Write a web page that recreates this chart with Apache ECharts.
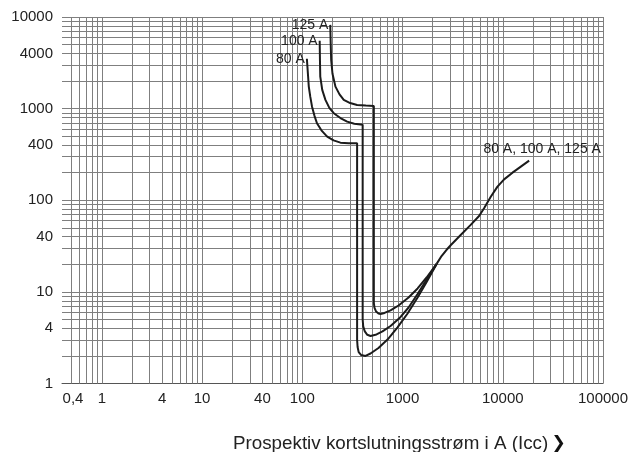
<!DOCTYPE html>
<html>
<head>
<meta charset="utf-8">
<script src="https://cdn.jsdelivr.net/npm/echarts@6/dist/echarts.min.js"></script>
<style>
  html, body { margin: 0; padding: 0; background: #fff; }
  #chart { width: 633px; height: 452px; }
</style>
</head>
<body>
<div id="chart"></div>
<script>
// Let-through curves vs prospective short-circuit current, log-log.
// Each point: [current in A, value]
const curve80 = [
  [111, 3500], [114, 2300], [116, 1740], [120, 1350], [125, 1050], [132, 840],
  [140, 693], [155, 580], [177, 495], [205, 450], [240, 425], [290, 418], [352, 418],
  [352, 3.0], [356, 2.5], [365, 2.2], [385, 2.05], [427, 2.0], [479, 2.125],
  [575, 2.44], [708, 3.02], [891, 4.09], [1122, 5.81], [1413, 8.7], [1738, 12.8],
  [2188, 20.2]
];
const curve100 = [
  [149, 5500], [150, 3300], [151, 2236], [158, 1600], [170, 1245], [186, 1020],
  [206, 891], [240, 790], [280, 721], [330, 685], [400, 665],
  [400, 5.0], [405, 4.2], [420, 3.7], [445, 3.4], [479, 3.3], [550, 3.43],
  [631, 3.7], [759, 4.24], [933, 5.18], [1148, 6.75], [1413, 9.49], [1738, 13.65],
  [2188, 20.2]
];
const curve125 = [
  [190, 8200], [192, 5000], [194, 3400], [200, 2400], [214, 1738], [235, 1430],
  [259, 1245], [300, 1150], [352, 1097], [430, 1080], [517, 1071],
  [517, 7.6], [525, 6.7], [545, 6.1], [575, 5.8], [603, 5.74], [661, 5.89],
  [759, 6.27], [912, 7.1], [1148, 8.69], [1413, 10.89], [1738, 14.36], [2188, 20.2]
];
const curveCommon = [
  [2188, 20.2], [2450, 24.6], [2750, 28.8], [3020, 32.3], [3802, 41.8], [4786, 53.8],
  [5800, 67.4], [6506, 81.8], [7586, 109], [8851, 141], [10310, 169],
  [12500, 200], [15140, 233], [18330, 271]
];

const curveNames = ['80 A', '100 A', '125 A'];
const commonName = '80 A, 100 A, 125 A';

const xTickLabels = [0.4, 1, 4, 10, 40, 100, 1000, 10000, 100000];
const yTickLabels = [1, 4, 10, 40, 100, 400, 1000, 4000, 10000];
const xTitle = 'Prospektiv kortslutningsstrøm i A (Icc)';

// Log-paper grid: every integer multiple of each decade
function logGrid(fromExp, toExp, start, end) {
  const out = [];
  for (let e = fromExp; e <= toExp; e++) {
    for (let m = 1; m <= 9; m++) {
      const v = +(m * Math.pow(10, e)).toPrecision(6);
      if (v >= start && v <= end) out.push(v);
    }
  }
  return out;
}
const xGrid = logGrid(-1, 5, 0.5, 100000);
const yGrid = logGrid(0, 4, 2, 10000);

const FONT = 'Liberation Sans, Arial, Helvetica, sans-serif';
const gridLine = { color: '#7f7f7f', width: 1, type: 'solid' };

function curveSeries(name, pts, labelIndex, labelOpts) {
  const p = pts[labelIndex];
  return {
    name: name,
    type: 'line',
    data: pts,
    showSymbol: false,
    symbol: 'none',
    smooth: false,
    z: 5,
    lineStyle: { color: '#1b1b1b', width: 2 },
    emphasis: { disabled: true },
    animation: false,
    markPoint: {
      silent: true,
      animation: false,
      symbol: 'circle',
      symbolSize: 0,
      label: Object.assign({
        show: true,
        formatter: name,
        color: '#222',
        fontSize: 14,
        fontFamily: FONT
      }, labelOpts),
      data: [{ coord: [p[0], p[1]] }]
    }
  };
}

const chart = echarts.init(document.getElementById('chart'), null, { renderer: 'canvas' });
chart.setOption({
  backgroundColor: '#fff',
  animation: false,
  grid: { left: 62, right: 30, top: 17, bottom: 68.5 },
  xAxis: {
    type: 'log',
    logBase: 10,
    min: 0.4,
    max: 100000,
    axisLine: { show: true, lineStyle: { color: '#555', width: 1 } },
    axisTick: { show: false },
    splitLine: { show: false },
    axisLabel: {
      customValues: xTickLabels,
      margin: 8,
      color: '#222',
      fontSize: 15,
      fontFamily: FONT,
      formatter: function (v) {
        const s = String(+v.toPrecision(6)).replace('.', ',');
        return v < 1 ? '{first|' + s + '}' : s;
      },
      rich: { first: { fontSize: 15, fontFamily: FONT, color: '#222', padding: [0, 0, 0, 22] } }
    }
  },
  yAxis: {
    type: 'log',
    logBase: 10,
    min: 1,
    max: 10000,
    axisLine: { show: false },
    axisTick: { show: false },
    splitLine: { show: false },
    axisLabel: {
      customValues: yTickLabels,
      margin: 9,
      color: '#222',
      fontSize: 15,
      fontFamily: FONT,
      formatter: function (v) { return String(+v.toPrecision(6)); }
    }
  },
  series: [
    {
      name: 'grid',
      type: 'line',
      data: [],
      z: 1,
      silent: true,
      markLine: {
        silent: true,
        symbol: 'none',
        animation: false,
        label: { show: false },
        lineStyle: gridLine,
        emphasis: { disabled: true },
        data: xGrid.map(v => ({ xAxis: v })).concat(yGrid.map(v => ({ yAxis: v })))
      }
    },
    curveSeries(curveNames[0], curve80, 0, { position: 'left', distance: 2 }),
    curveSeries(curveNames[1], curve100, 0, { position: 'left', distance: 2 }),
    curveSeries(curveNames[2], curve125, 0, { position: 'left', distance: 2 }),
    curveSeries(commonName, curveCommon, curveCommon.length - 1, { position: 'top', distance: 4, offset: [13, 0] })
  ],
  graphic: [
    {
      type: 'text',
      left: 233,
      top: 434,
      silent: true,
      style: {
        text: '{t|' + xTitle + '} {c|❯}',
        rich: {
          t: { fontSize: 18.8, fontFamily: FONT, fill: '#222' },
          c: { fontSize: 17, fontFamily: 'DejaVu Sans', fontWeight: 'bold', fill: '#111' }
        }
      }
    }
  ]
});
</script>
</body>
</html>
